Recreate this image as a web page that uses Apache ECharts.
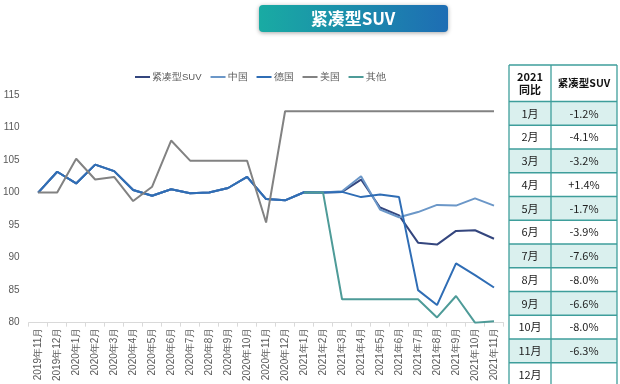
<!DOCTYPE html>
<html>
<head>
<meta charset="utf-8">
<script src="https://cdn.jsdelivr.net/npm/echarts@6/dist/echarts.min.js"></script>
<style>
html,body{margin:0;padding:0;background:#fff;}
#c{width:620px;height:384px;}
</style>
</head>
<body>
<div id="c"></div>
<script>
const categories = ['2019年11月','2019年12月','2020年1月','2020年2月','2020年3月','2020年4月','2020年5月','2020年6月','2020年7月','2020年8月','2020年9月','2020年10月','2020年11月','2020年12月','2021年1月','2021年2月','2021年3月','2021年4月','2021年5月','2021年6月','2021年7月','2021年8月','2021年9月','2021年10月','2021年11月'];
const seriesNames = ['紧凑型SUV','中国','德国','美国','其他'];
const suvValues   = [100,103.2,101.4,104.3,103.3,100.4,99.5,100.5,99.9,100.0,100.7,102.4,99.0,98.8,100.05,100.0,100.1,102.0,97.7,96.5,92.3,92.0,94.1,94.2,92.9];
const chinaValues = [100,103.2,101.4,104.3,103.3,100.4,99.5,100.5,99.9,100.0,100.7,102.4,99.0,98.8,100.05,100.0,100.2,102.5,97.4,96.2,97.0,98.1,98.0,99.1,98.0];
const germanyValues=[100,103.2,101.4,104.3,103.3,100.4,99.5,100.5,99.9,100.0,100.7,102.4,99.0,98.8,100.05,100.0,100.1,99.3,99.7,99.3,85.0,82.7,89.1,87.3,85.4];
const usaValues   = [100,100,105.2,102.0,102.4,98.7,100.9,108.0,104.9,104.9,104.9,104.9,95.4,112.5,112.5,112.5,112.5,112.5,112.5,112.5,112.5,112.5,112.5,112.5,112.5];
const otherValues = ['-','-','-','-','-','-','-','-','-','-','-','-','-','-',100.0,100.0,83.6,83.6,83.6,83.6,83.6,80.8,84.1,80.0,80.2];
const yTicks = [80,85,90,95,100,105,110,115];
const tableHeader = ['2021\n同比','紧凑型SUV'];
const tableMonths = ['1月','2月','3月','4月','5月','6月','7月','8月','9月','10月','11月','12月'];
const tableYoY = ['-1.2%','-4.1%','-3.2%','+1.4%','-1.7%','-3.9%','-7.6%','-8.0%','-6.6%','-8.0%','-6.3%',''];
const titleText = '紧凑型SUV';

const colors = ['#34467E','#6B97C8','#2F6DB5','#828282','#4E9B98'];
const valuesList = [suvValues, chinaValues, germanyValues, usaValues, otherValues];

// table graphics
const tx0 = 509, tx1 = 551, tx2 = 617, ty0 = 65, tyH = 101.5, rowH = 23.75;
const borderColor = '#3E9E9B';
const gfx = [];
// title button
gfx.push({
  type:'rect', shape:{x:259,y:5,width:189,height:27,r:4},
  style:{fill:new echarts.graphic.LinearGradient(0,0,1,0,[{offset:0,color:'#19ABA3'},{offset:1,color:'#1E6DB4'}]),
         shadowBlur:4, shadowColor:'rgba(0,0,0,0.35)', shadowOffsetY:1}
});
gfx.push({type:'text', x:353, y:18.5, style:{text:titleText, fill:'#fff', font:'bold 17px "Noto Sans CJK SC", sans-serif', align:'center', verticalAlign:'middle'}});
for (let i = 0; i < tableMonths.length; i++) {
  const y = tyH + i*rowH;
  gfx.push({type:'rect', shape:{x:tx0,y:y,width:tx2-tx0,height:rowH}, style:{fill: i%2===0 ? '#DAF0EE' : '#FFFFFF'}});
  gfx.push({type:'text', x:(tx0+tx1)/2, y:y+rowH/2, style:{text:tableMonths[i], fill:'#222', font:'11px "Noto Sans CJK SC", sans-serif', align:'center', verticalAlign:'middle'}});
  gfx.push({type:'text', x:(tx1+tx2)/2, y:y+rowH/2, style:{text:tableYoY[i], fill:'#222', font:'11px "Noto Sans CJK SC", sans-serif', align:'center', verticalAlign:'middle'}});
}
gfx.push({type:'text', x:(tx0+tx1)/2, y:(ty0+tyH)/2, style:{text:tableHeader[0], fill:'#111', font:'bold 11px "Noto Sans CJK SC", sans-serif', align:'center', verticalAlign:'middle', lineHeight:13}});
gfx.push({type:'text', x:(tx1+tx2)/2, y:(ty0+tyH)/2, style:{text:tableHeader[1], fill:'#111', font:'bold 10.5px "Noto Sans CJK SC", sans-serif', align:'center', verticalAlign:'middle'}});
const tyEnd = tyH + tableMonths.length*rowH;
const lineStyle = {stroke:borderColor, lineWidth:1.3};
gfx.push({type:'line', shape:{x1:tx0,y1:ty0,x2:tx2,y2:ty0}, style:lineStyle});
for (let i = 0; i <= tableMonths.length; i++) {
  const y = tyH + i*rowH;
  gfx.push({type:'line', shape:{x1:tx0,y1:y,x2:tx2,y2:y}, style:lineStyle});
}
[tx0,tx1,tx2].forEach(x => gfx.push({type:'line', shape:{x1:x,y1:ty0,x2:x,y2:tyEnd}, style:lineStyle}));

const chart = echarts.init(document.getElementById('c'), null, {renderer:'canvas'});
chart.setOption({
  animation:false,
  color: colors,
  grid:{left:28.5, right:116.5, top:95, bottom:60, containLabel:false},
  legend:{
    data: seriesNames, left:135, top:72, icon:'rect', itemWidth:15, itemHeight:2, itemGap:9,
    padding:0, textStyle:{fontSize:9.5, color:'#595959', padding:[0,0,0,-3]}
  },
  xAxis:{
    type:'category', data:categories, boundaryGap:true,
    axisLine:{lineStyle:{color:'#D9D9D9'}},
    axisTick:{show:true, length:4, lineStyle:{color:'#D9D9D9'}},
    axisLabel:{rotate:90, fontSize:10, color:'#595959', margin:5, interval:0}
  },
  yAxis:{
    type:'value', min:yTicks[0], max:yTicks[yTicks.length-1], interval:5,
    splitLine:{show:false}, axisLine:{show:false}, axisTick:{show:false},
    axisLabel:{fontSize:10, color:'#595959', margin:9}
  },
  series: seriesNames.map((n,i)=>({
    name:n, type:'line', data:valuesList[i], symbol:'none', showSymbol:false,
    lineStyle:{width:2, color:colors[i]}, itemStyle:{color:colors[i]}, connectNulls:false
  })),
  graphic: gfx
});
</script>
</body>
</html>
